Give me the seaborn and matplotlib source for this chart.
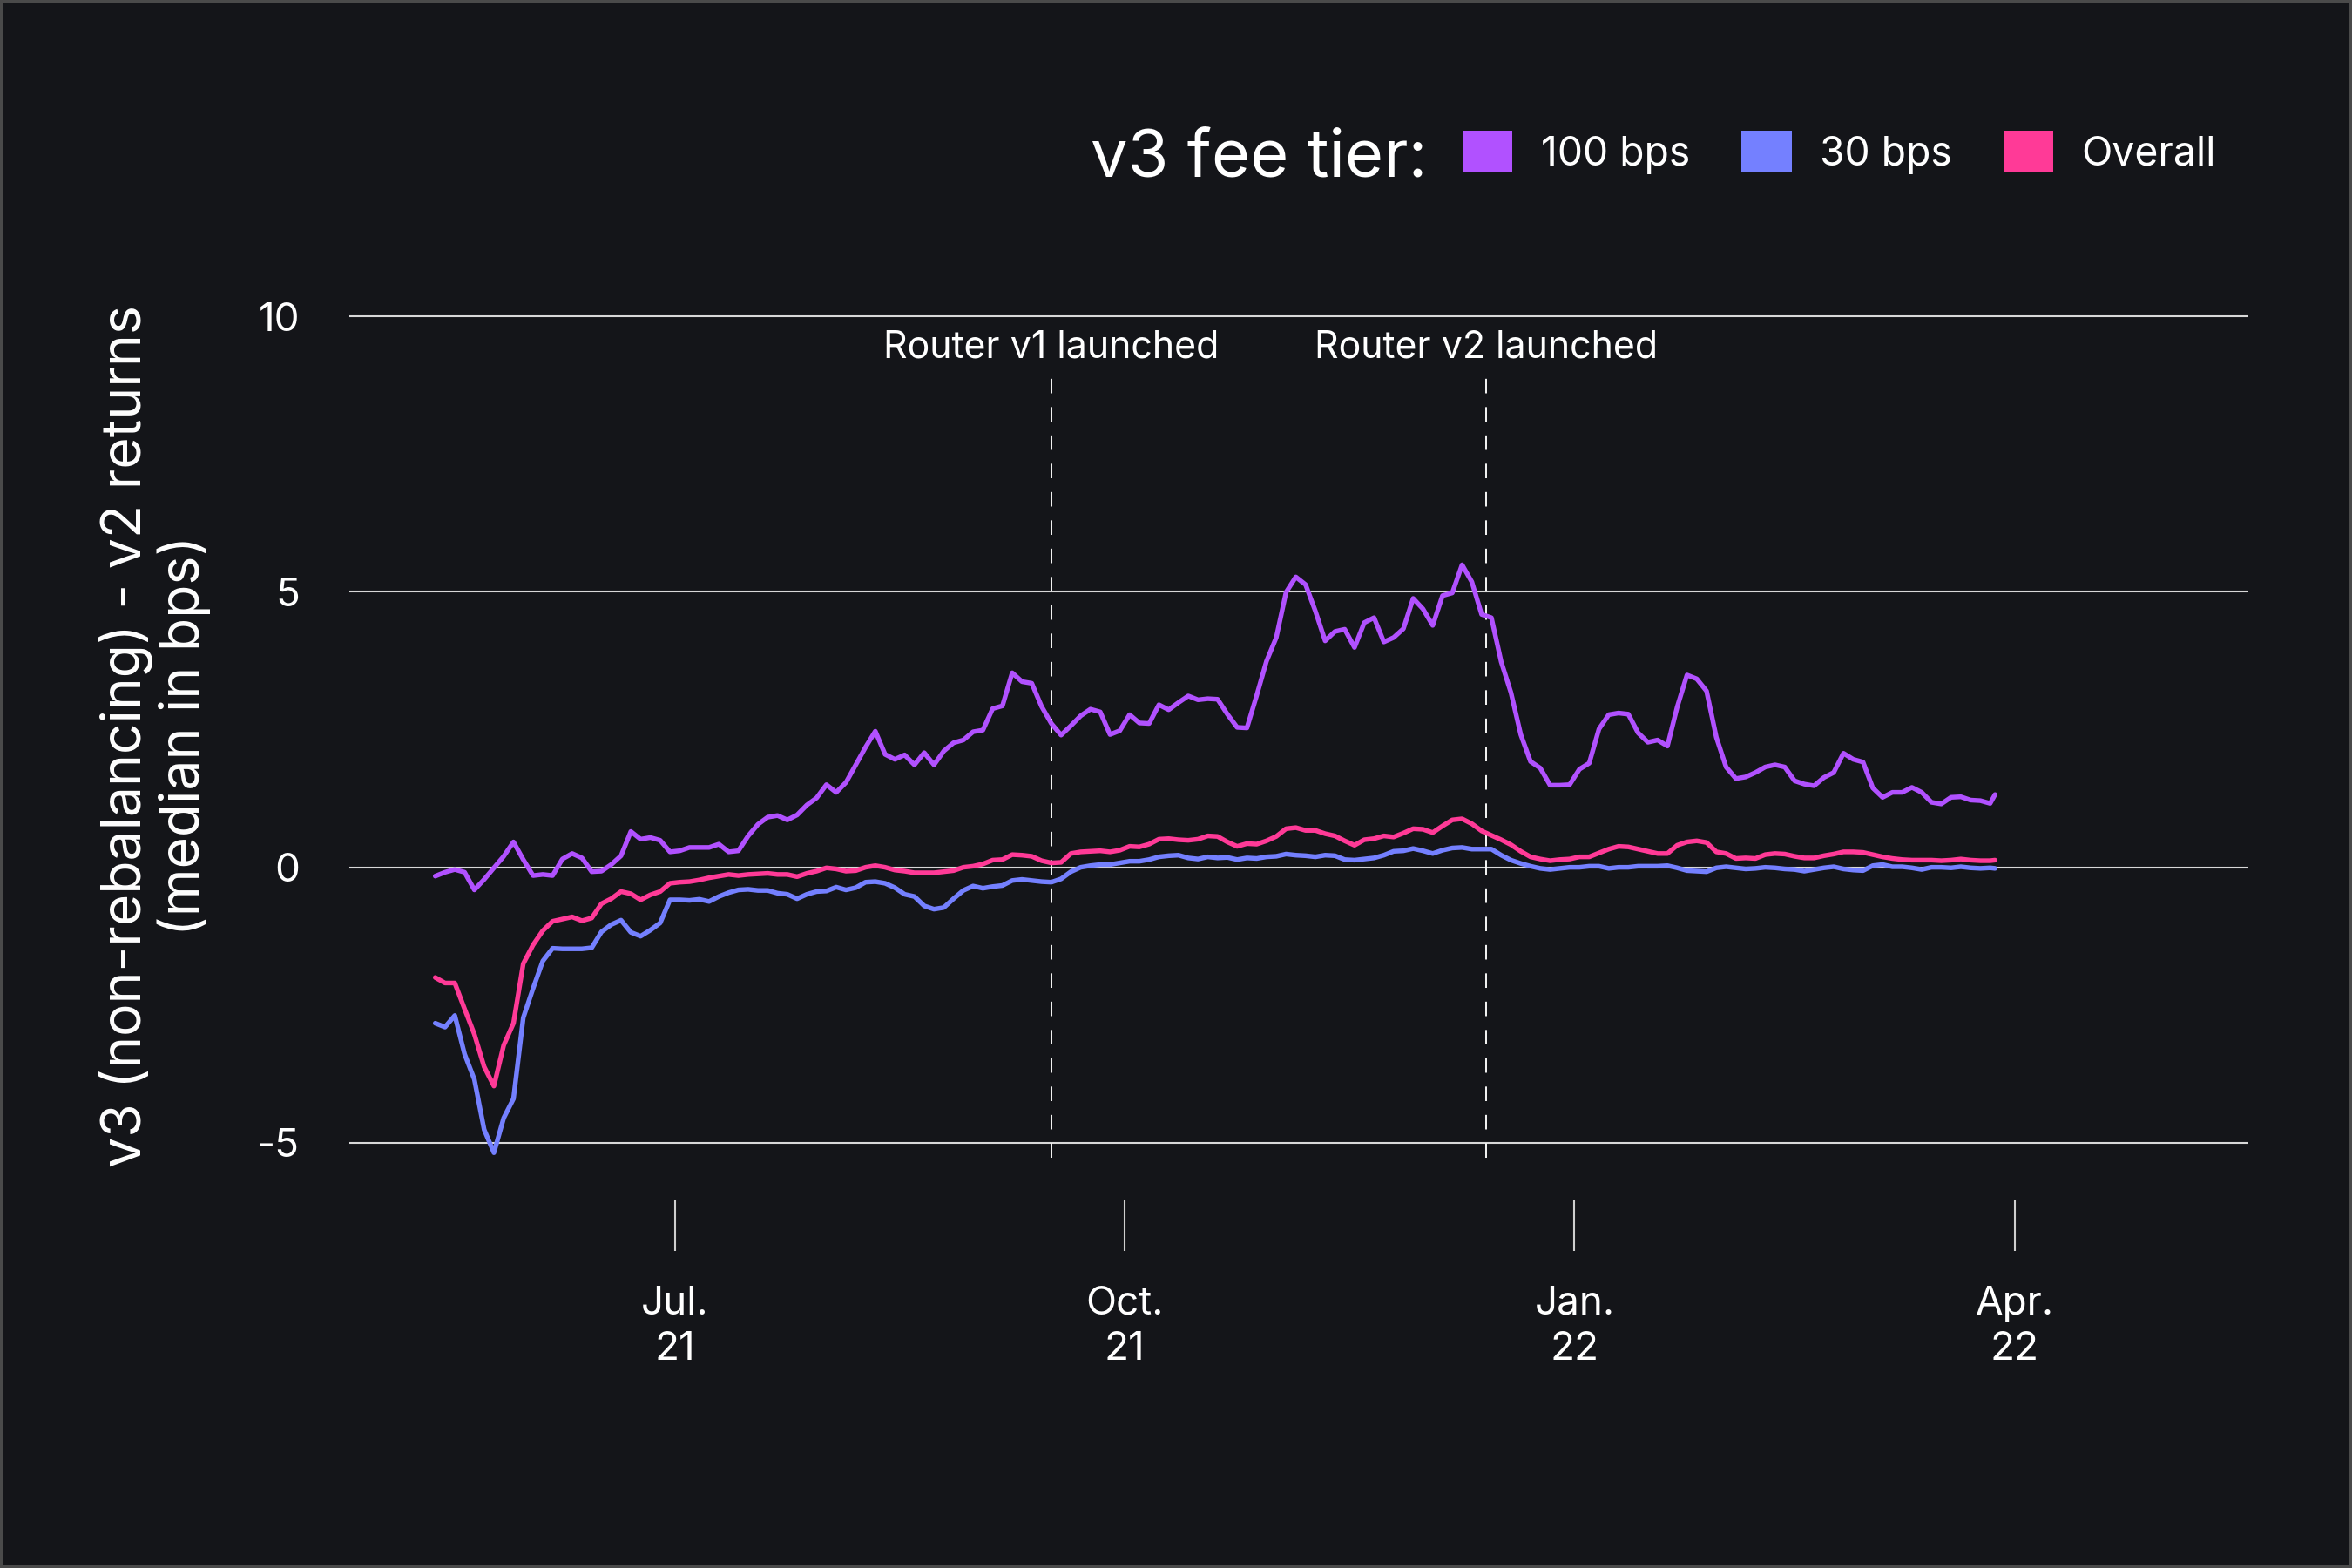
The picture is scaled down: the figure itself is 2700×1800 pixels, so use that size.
import numpy as np
import pandas as pd
import matplotlib
matplotlib.use('Agg')
import matplotlib.pyplot as plt
from matplotlib.patches import Patch
import seaborn as sns

# ---------------- data ----------------
dates = list(pd.date_range('2021-05-13', periods=160, freq='2D')) + [pd.Timestamp('2022-03-28')]

tier_100 = [
    -0.16, -0.09, -0.04, -0.09, -0.41, -0.22, -0.01, 0.20, 0.46, 0.14,
    -0.15, -0.13, -0.15, 0.15, 0.25, 0.17, -0.08, -0.07, 0.05, 0.21,
    0.65, 0.51, 0.54, 0.49, 0.28, 0.30, 0.36, 0.36, 0.36, 0.42,
    0.28, 0.30, 0.57, 0.78, 0.91, 0.94, 0.86, 0.95, 1.13, 1.26,
    1.50, 1.36, 1.54,
    1.86, 2.18, 2.47, 2.05, 1.96, 2.04, 1.86, 2.08, 1.86, 2.11,
    2.26, 2.31, 2.46, 2.49, 2.88, 2.93, 3.53, 3.37, 3.34, 2.92,
    2.61, 2.40, 2.57, 2.75, 2.87, 2.82, 2.41, 2.48, 2.77, 2.62,
    2.61, 2.95, 2.86, 2.99, 3.11, 3.04, 3.06, 3.05, 2.78, 2.54,
    2.53, 3.12, 3.74, 4.17, 4.99,
    5.27, 5.13, 4.65, 4.11, 4.28, 4.32, 3.99, 4.44, 4.53, 4.09,
    4.17, 4.33, 4.88, 4.69, 4.39, 4.93, 4.98, 5.49, 5.18, 4.59,
    4.53, 3.73, 3.17, 2.41, 1.92, 1.80, 1.49, 1.49, 1.50, 1.78,
    1.89, 2.51, 2.77, 2.80, 2.78, 2.44, 2.27, 2.31, 2.20, 2.91,
    3.49, 3.42, 3.20, 2.36,
    1.82, 1.61, 1.64, 1.72, 1.82, 1.86, 1.82, 1.57, 1.51, 1.48,
    1.63, 1.72, 2.07, 1.96, 1.91, 1.44, 1.27, 1.36, 1.36, 1.45,
    1.36, 1.18, 1.15, 1.27, 1.28, 1.22, 1.21, 1.16, 1.32,
]

tier_30 = [
    -2.83, -2.90, -2.69, -3.39, -3.85, -4.76, -5.18, -4.55, -4.20, -2.73,
    -2.20, -1.70, -1.47, -1.48, -1.48, -1.48, -1.46, -1.17, -1.04, -0.96,
    -1.18, -1.25, -1.14, -1.01, -0.59, -0.59, -0.60, -0.58, -0.62, -0.53,
    -0.46, -0.41, -0.40, -0.42, -0.42, -0.47, -0.49, -0.57, -0.49, -0.44,
    -0.43, -0.36, -0.41,
    -0.37, -0.27, -0.26, -0.29, -0.37, -0.49, -0.53, -0.70, -0.76, -0.73,
    -0.57, -0.42, -0.34, -0.38, -0.35, -0.33, -0.24, -0.22, -0.24, -0.26,
    -0.27, -0.21, -0.08, 0.00, 0.03, 0.05, 0.05, 0.08, 0.11, 0.11,
    0.14, 0.19, 0.21, 0.22, 0.17, 0.15, 0.19, 0.17, 0.18, 0.14,
    0.17, 0.16, 0.19, 0.20, 0.24,
    0.22, 0.21, 0.19, 0.22, 0.21, 0.14, 0.13, 0.15, 0.17, 0.22,
    0.29, 0.30, 0.34, 0.30, 0.25, 0.31, 0.35, 0.36, 0.33, 0.33,
    0.33, 0.22, 0.13, 0.07, 0.02, -0.02, -0.04, -0.02, 0.00, 0.00,
    0.02, 0.02, -0.02, 0.00, 0.00, 0.02, 0.02, 0.02, 0.03, -0.01,
    -0.06, -0.07, -0.08, -0.01,
    0.01, -0.01, -0.03, -0.02, 0.00, -0.01, -0.03, -0.04, -0.07, -0.04,
    -0.01, 0.01, -0.03, -0.05, -0.06, 0.03, 0.05, 0.01, 0.01, -0.01,
    -0.04, 0.00, 0.00, -0.01, 0.01, -0.01, -0.02, -0.01, -0.02,
]

overall = [
    -2.00, -2.10, -2.10, -2.57, -3.03, -3.62, -3.97, -3.23, -2.83, -1.75,
    -1.41, -1.15, -0.98, -0.94, -0.90, -0.97, -0.92, -0.66, -0.57, -0.44,
    -0.48, -0.59, -0.50, -0.44, -0.29, -0.27, -0.26, -0.23, -0.19, -0.16,
    -0.13, -0.15, -0.13, -0.12, -0.11, -0.13, -0.13, -0.17, -0.11, -0.07,
    -0.01, -0.03, -0.07,
    -0.06, 0.00, 0.03, 0.00, -0.05, -0.07, -0.10, -0.10, -0.10, -0.08,
    -0.06, 0.00, 0.02, 0.06, 0.13, 0.14, 0.23, 0.22, 0.20, 0.12,
    0.08, 0.09, 0.25, 0.28, 0.29, 0.30, 0.28, 0.31, 0.38, 0.37,
    0.42, 0.51, 0.52, 0.50, 0.49, 0.51, 0.57, 0.56, 0.46, 0.38,
    0.43, 0.42, 0.48, 0.56, 0.70,
    0.72, 0.67, 0.67, 0.61, 0.57, 0.48, 0.40, 0.50, 0.52, 0.57,
    0.55, 0.62, 0.70, 0.69, 0.63, 0.75, 0.86, 0.88, 0.79, 0.66,
    0.58, 0.50, 0.41, 0.29, 0.19, 0.15, 0.12, 0.14, 0.15, 0.19,
    0.19, 0.26, 0.33, 0.38, 0.37, 0.33, 0.29, 0.25, 0.25, 0.40,
    0.46, 0.48, 0.45, 0.28,
    0.25, 0.16, 0.17, 0.16, 0.23, 0.25, 0.24, 0.20, 0.17, 0.17,
    0.21, 0.24, 0.28, 0.28, 0.27, 0.23, 0.19, 0.16, 0.14, 0.13,
    0.13, 0.13, 0.12, 0.13, 0.15, 0.13, 0.12, 0.12, 0.13,
]

series_names = ['100 bps', '30 bps', 'Overall']
series_colors = ['#B151FF', '#7480FF', '#FF3A97']
yticks = [-5, 0, 5, 10]
ytick_labels = ['-5', '0', '5', '10']
xtick_dates = ['2021-07-01', '2021-10-01', '2022-01-01', '2022-04-01']
xtick_labels = ['Jul.\n21', 'Oct.\n21', 'Jan.\n22', 'Apr.\n22']
event_dates = ['2021-09-16', '2021-12-14']
event_labels = ['Router v1 launched', 'Router v2 launched']
legend_title = 'v3 fee tier:'
ylabel = 'v3 (non-rebalancing) - v2 returns\n(median in bps)'

# ---------------- style ----------------
BG = '#141519'
sns.set_theme(style='dark')
plt.rcParams['font.family'] = ['Inter', 'DejaVu Sans']
plt.rcParams['lines.scale_dashes'] = False

df = pd.concat([
    pd.DataFrame({'date': dates, 'value': vals, 'tier': name})
    for name, vals in zip(series_names, [tier_100, tier_30, overall])
], ignore_index=True)

fig = plt.figure(figsize=(9, 6), dpi=300, facecolor=BG)
fig.patch.set_edgecolor('#4a4a4a')
fig.patch.set_linewidth(1.0)
ax = fig.add_axes([0.1485, 0.2617, 0.8074, 0.5471])
ax.set_facecolor(BG)

palette = dict(zip(series_names, series_colors))
sns.lineplot(data=df, x='date', y='value', hue='tier', hue_order=series_names,
             palette=palette, linewidth=1.3, legend=False, ax=ax, zorder=3)

ymin, ymax = -5.27, 10.3
ax.set_ylim(ymin, ymax)
ax.set_xlim(pd.Timestamp('2021-04-25 10:00'), pd.Timestamp('2022-05-18 19:00'))

ax.set_yticks(yticks)
ax.set_yticklabels(ytick_labels)
ax.set_xticks(pd.to_datetime(xtick_dates))
ax.set_xticklabels(xtick_labels)

ax.grid(False)
ax.yaxis.grid(True, color='#d8d8d8', linewidth=0.5)
ax.set_axisbelow(True)

for s in ['top', 'right', 'left']:
    ax.spines[s].set_visible(False)
ax.spines['bottom'].set_position(('outward', 11.5))
ax.spines['bottom'].set_visible(False)

ax.tick_params(axis='x', which='major', bottom=True, length=14.2, width=0.5,
               color='#cfcfcf', pad=9.5, labelsize=11, labelcolor='white',
               direction='out')
ax.tick_params(axis='y', length=0, pad=13.7, labelsize=11, labelcolor='white')
for lbl in ax.get_xticklabels():
    lbl.set_linespacing(1.3)
ax.set_xlabel('')
ax.set_ylabel('')

top_frac = (9.02 - ymin) / (ymax - ymin)
for d, lab in zip(event_dates, event_labels):
    dt = pd.Timestamp(d)
    ax.axvline(dt, ymin=0, ymax=top_frac, color='white', linewidth=0.45,
               dashes=(4, 3.8), zorder=2)
    ax.text(dt, 9.25, lab, ha='center', va='baseline', color='white',
            fontsize=10.3)

fig.text(0.0659, 0.5308, ylabel, rotation=90, ha='center', va='center',
         fontsize=15, color='white', multialignment='center', linespacing=1.1)

fig.text(0.4637, 0.8872, legend_title, fontsize=18.2, color='white',
         ha='left', va='baseline')
handles = [Patch(facecolor=c, edgecolor='none') for c in series_colors]
fig.legend(handles, series_names, loc='center left', bbox_to_anchor=(0.6219, 0.9028),
           ncol=3, frameon=False, fontsize=11.1, handlelength=1.24, handleheight=1.2,
           handletextpad=0.7, columnspacing=1.28, borderpad=0, borderaxespad=0,
           labelcolor='white')

fig.savefig('out.png', dpi=300, facecolor=BG, edgecolor=fig.get_edgecolor())
